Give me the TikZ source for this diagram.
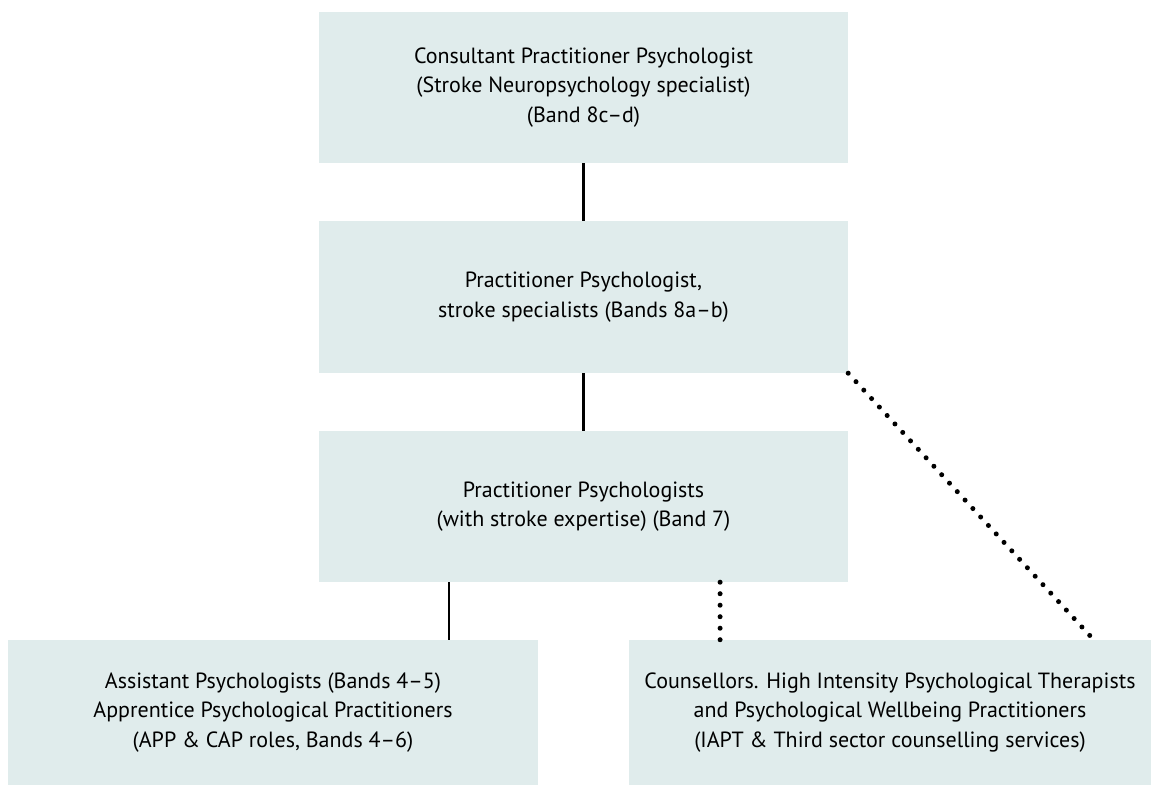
\documentclass[tikz,border=0pt]{standalone}
\usepackage{fontspec}
\setmainfont{PT Sans}
\usepackage{tikz}
\usetikzlibrary{calc}

\definecolor{boxfill}{RGB}{224,236,236}

\tikzset{
  rolebox/.style={fill=boxfill, draw=none, align=center, inner sep=0pt,
    font=\fontsize{22}{29.5}\selectfont},
  link/.style={line width=2.4pt, black},
  dotlink/.style={line width=5pt, line cap=round, dash pattern=on 0pt off 11.5pt, black}
}

\begin{document}
\begin{tikzpicture}[x=1pt, y=-1pt]
  \useasboundingbox (0,0) rectangle (1151,785);
  % top row
  \node[rolebox, minimum width=529pt, minimum height=151pt] (consult) at (583.5,87.5)
    {Consultant Practitioner Psychologist\\(Stroke Neuropsychology specialist)\\(Band 8c--d)};
  \node[rolebox, minimum width=529pt, minimum height=152pt] (spec) at (583.5,297)
    {Practitioner Psychologist,\\stroke specialists (Bands 8a--b)};
  \node[rolebox, minimum width=529pt, minimum height=151pt] (band7) at (583.5,506.5)
    {Practitioner Psychologists\\(with stroke expertise) (Band 7)};
  % bottom row
  \node[rolebox, minimum width=530pt, minimum height=145pt] (assist) at (273,712.5)
    {Assistant Psychologists (Bands 4--5)\\Apprentice Psychological Practitioners\\(APP \& CAP roles, Bands 4--6)};
  \node[rolebox, minimum width=522pt, minimum height=145pt] (counsel) at (890,712.5)
    {Counsellors. High Intensity Psychological Therapists\\and Psychological Wellbeing Practitioners\\(IAPT \& Third sector counselling services)};

  % connectors
  \draw[link] (consult.south) -- (spec.north);
  \draw[link] (spec.south) -- (band7.north);
  \coordinate (a1) at ($(assist.north west)!0.832!(assist.north east)$);
  \draw[link] (a1 |- band7.south) -- (a1);
  \draw[dotlink] ($(band7.south west)!0.758!(band7.south east)$) coordinate (c1) -- (c1 |- counsel.north);
  \draw[dotlink] (spec.south east) -- ($(counsel.north west)!0.89!(counsel.north east)$);
\end{tikzpicture}
\end{document}
